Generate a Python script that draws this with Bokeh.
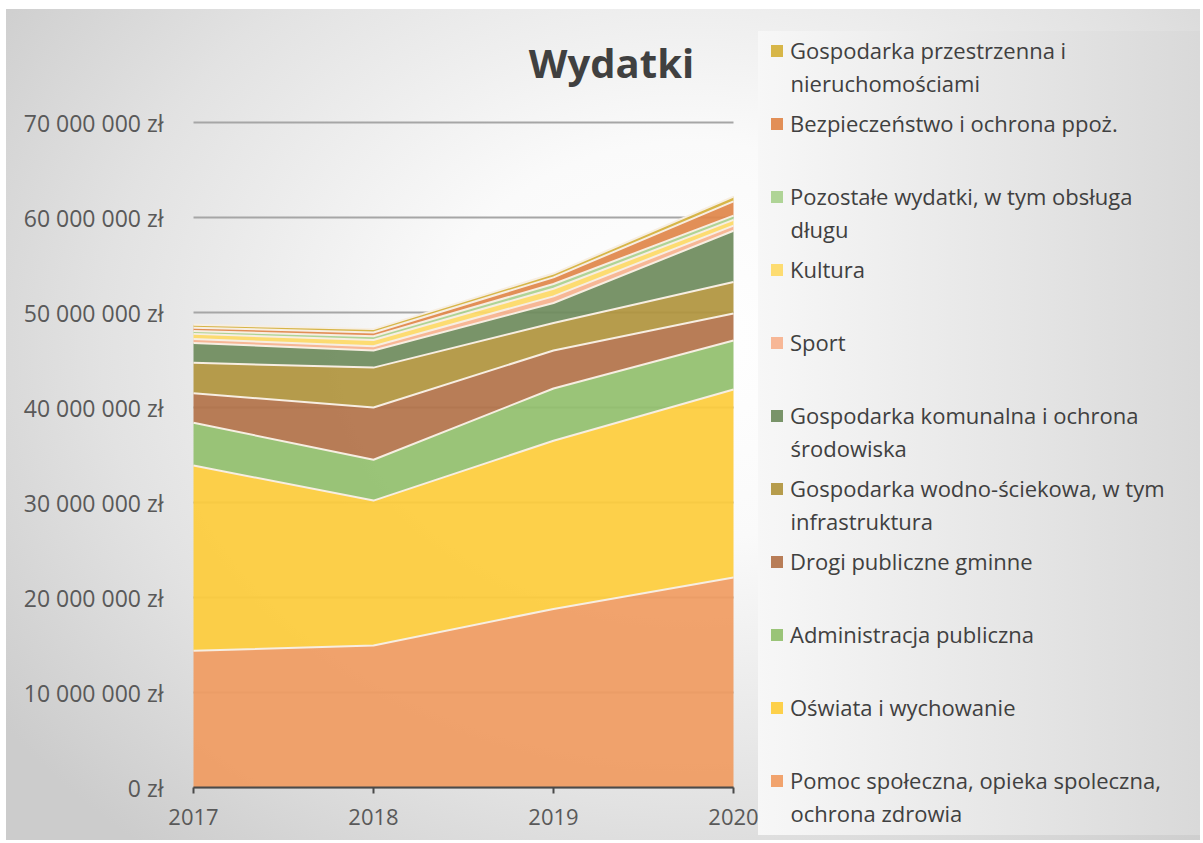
from bokeh.plotting import figure
from bokeh.models import (Range1d, FixedTicker, Legend, LegendItem, Label,
                          ColumnDataSource, CustomJSTickFormatter)
from bokeh.embed import file_html
from bokeh.resources import INLINE

years = [2017, 2018, 2019, 2020]
pomoc = [14.4e6, 14.95e6, 18.8e6, 22.1e6]
oswiata = [19.5e6, 15.25e6, 17.7e6, 19.8e6]
administracja = [4.5e6, 4.3e6, 5.5e6, 5.15e6]
drogi = [3.1e6, 5.5e6, 4.0e6, 2.85e6]
wodno = [3.2e6, 4.2e6, 2.9e6, 3.3e6]
komunalna = [2.1e6, 1.8e6, 2.1e6, 5.4e6]
sport = [0.4e6, 0.45e6, 0.7e6, 0.55e6]
kultura = [0.55e6, 0.65e6, 0.8e6, 0.6e6]
pozostale = [0.3e6, 0.4e6, 0.5e6, 0.45e6]
bezpieczenstwo = [0.35e6, 0.4e6, 0.7e6, 1.5e6]
przestrzenna = [0.3e6, 0.35e6, 0.4e6, 0.5e6]

# legend labels: first line, second line ("" if none)
labels = [
    ("Pomoc społeczna, opieka spoleczna,", "ochrona zdrowia"),
    ("Oświata i wychowanie", ""),
    ("Administracja publiczna", ""),
    ("Drogi publiczne gminne", ""),
    ("Gospodarka wodno-ściekowa, w tym", "infrastruktura"),
    ("Gospodarka komunalna i ochrona", "środowiska"),
    ("Sport", ""),
    ("Kultura", ""),
    ("Pozostałe wydatki, w tym obsługa", "długu"),
    ("Bezpieczeństwo i ochrona ppoż.", ""),
    ("Gospodarka przestrzenna i", "nieruchomościami"),
]
series = [pomoc, oswiata, administracja, drogi, wodno, komunalna, sport,
          kultura, pozostale, bezpieczenstwo, przestrzenna]
colors = ["#F09C62", "#FDCC3C", "#92BF6E", "#B3734A", "#B0943E", "#6F8C5E",
          "#F6B28E", "#FDD966", "#A9D18E", "#E0874A", "#D4B03A"]
keys = ["s%d" % i for i in range(len(series))]
y_ticks = [i * 1e7 for i in range(8)]

data = {"x": years}
for k, s in zip(keys, series):
    data[k] = s
source = ColumnDataSource(data)

FONT = "Open Sans"
W, H = 1200, 840
PX_YEAR = 180.0          # px per year
PX_10M = 95.0            # px per 10 000 000
X0_PX, Y0_PX = 193, 787  # pixel of (2017, 0)
X_START = 2017 - X0_PX / PX_YEAR
Y_START = -(H - Y0_PX) / PX_10M * 1e7


def px_to_x(px):
    return X_START + px / PX_YEAR


def py_to_y(py):
    return (Y0_PX - py) / PX_10M * 1e7


p = figure(width=W, height=H, output_backend="svg", toolbar_location=None,
           x_range=Range1d(X_START, X_START + W / PX_YEAR),
           y_range=Range1d(Y_START, Y_START + H / PX_10M * 1e7),
           min_border_left=0, min_border_right=0, min_border_top=0,
           min_border_bottom=0)
p.border_fill_color = None
p.background_fill_color = None
p.outline_line_color = None
p.styles = {
    "background": (
        "linear-gradient(to right, #f7f7f7, #d9d9d9) 758px 31px / 442px 804px no-repeat, "
        "radial-gradient(ellipse 70% 80% at 57% 40%, #ffffff 0%, #fafafa 30%, #e2e2e2 70%, #cccccc 100%) "
        "6px 9px / calc(100% - 6px) calc(100% - 9px) no-repeat, #ffffff"
    ),
}

# grid
g = p.ygrid[0]
g.ticker = FixedTicker(ticks=y_ticks)
p.xgrid.grid_line_color = None
if "cross_bounds" in g.properties():
    g.cross_bounds = (2017, 2020)
    g.grid_line_color = "#a6a6a6"
    g.grid_line_width = 2
else:
    g.grid_line_color = None
    p.segment(x0=[2017] * len(y_ticks), x1=[2020] * len(y_ticks), y0=y_ticks,
              y1=y_ticks, line_color="#a6a6a6", line_width=2, level="underlay")

areas = p.varea_stack(stackers=keys, x="x", color=colors, fill_alpha=0.93, source=source)
p.vline_stack(stackers=keys, x="x", line_color="#f7eee2", line_width=2, source=source)

# x axis drawn at y = 0 inside the frame
p.xaxis.fixed_location = 0
p.xaxis.bounds = (2017, 2020)
p.xaxis.ticker = FixedTicker(ticks=years)
p.xaxis.major_label_text_font = FONT
p.xaxis.major_label_text_font_size = "22px"
p.xaxis.major_label_text_color = "#595959"
p.xaxis.axis_line_color = "#4a4a4a"
p.xaxis.axis_line_width = 2
p.xaxis.major_tick_line_color = "#4a4a4a"
p.xaxis.major_tick_line_width = 2
p.xaxis.major_tick_in = 0
p.xaxis.major_tick_out = 6
p.xaxis.minor_tick_line_color = None
p.xaxis.major_label_standoff = 15

# y axis drawn at x = 2017 inside the frame
p.yaxis.fixed_location = 2017
p.yaxis.bounds = (0, 7e7)
p.yaxis.ticker = FixedTicker(ticks=y_ticks)
p.yaxis.formatter = CustomJSTickFormatter(
    code='return tick.toFixed(0).replace(/\\B(?=(\\d{3})+(?!\\d))/g, " ") + " zł";')
p.yaxis.major_label_text_font = FONT
p.yaxis.major_label_text_font_size = "23px"
p.yaxis.major_label_text_color = "#595959"
p.yaxis.axis_line_color = None
p.yaxis.major_tick_line_color = None
p.yaxis.minor_tick_line_color = None
p.yaxis.major_label_standoff = 24

title = Label(x=px_to_x(611), y=py_to_y(62), text="Wydatki", text_font=FONT,
              text_font_size="40px", text_font_style="bold", text_color="#404040",
              text_align="center", text_baseline="middle")
p.add_layout(title)

# legend: 11 items, 73 px pitch, first item centred at y = 50 px
PITCH = 73
FIRST_C = 50
order = list(reversed(range(len(labels))))
items = [LegendItem(label=labels[i][0], renderers=[areas[i]]) for i in order]
legend_h = PITCH * len(items)
legend = Legend(items=items, location=(769, H - (FIRST_C - PITCH / 2) - legend_h),
                orientation="vertical")
legend.label_text_font = FONT
legend.label_text_font_size = "22px"
legend.label_text_color = "#404040"
legend.glyph_width = 15
legend.glyph_height = 15
legend.label_height = PITCH
legend.spacing = 0
legend.padding = 0
legend.margin = 0
legend.label_standoff = 6
legend.background_fill_alpha = 0
legend.border_line_color = None
legend.inactive_fill_alpha = 0
p.add_layout(legend)

# second lines of the wrapped legend labels
for row, i in enumerate(order):
    second = labels[i][1]
    if second:
        p.add_layout(Label(x=px_to_x(790), y=py_to_y(FIRST_C + PITCH * row + 32),
                           text=second, text_font=FONT, text_font_size="22px",
                           text_color="#404040", text_align="left",
                           text_baseline="middle"))

open("out.html", "w").write(file_html(p, INLINE))
